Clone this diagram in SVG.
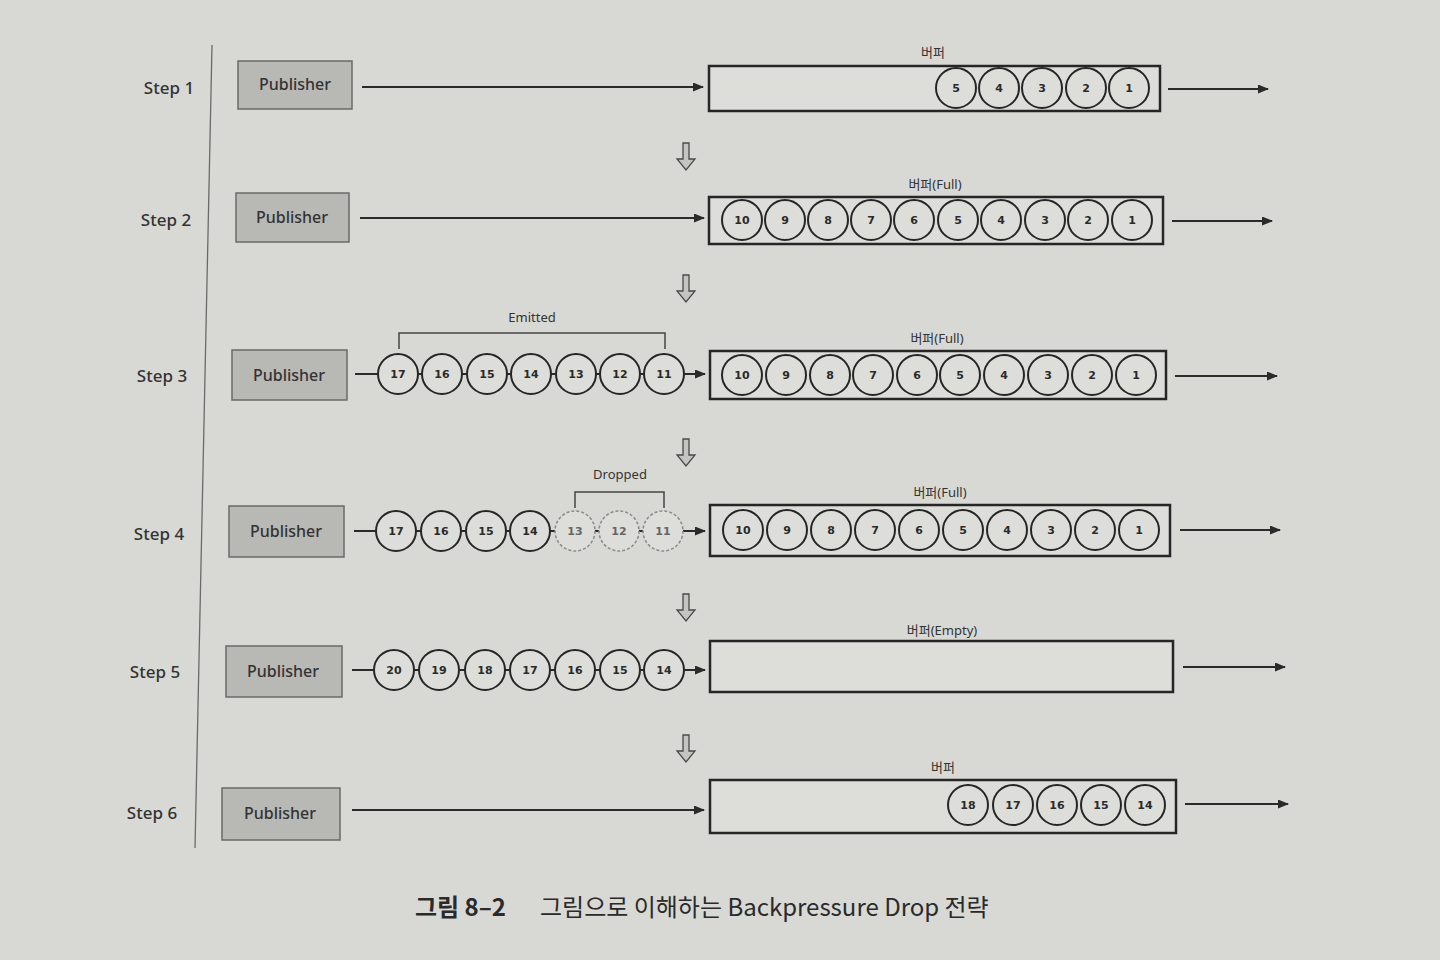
<svg xmlns="http://www.w3.org/2000/svg" width="1440" height="960" viewBox="0 0 1440 960">
<defs>
<style>
.bg{fill:#d8d9d5}
.step{font-family:"Noto Sans","Liberation Sans",sans-serif;font-size:17px;font-weight:500;fill:#333;text-anchor:middle;dominant-baseline:central}
.pub rect{fill:#b8b8b5;stroke:#6a6a68;stroke-width:1.5}
.pub text{font-family:"Noto Sans","Liberation Sans",sans-serif;font-size:16px;font-weight:500;fill:#333;text-anchor:middle;dominant-baseline:central}
.buf{fill:#dddeda;stroke:#262626;stroke-width:2.5}
.lbl{font-family:"Noto Sans","Noto Sans CJK KR",sans-serif;font-size:13px;fill:#333;text-anchor:middle;dominant-baseline:central}
.c circle{fill:#dddeda;stroke:#262626;stroke-width:2}
.c text{font-family:"DejaVu Sans","Liberation Sans",sans-serif;font-size:11px;font-weight:bold;fill:#2a2a2a;text-anchor:middle;dominant-baseline:central}
.d circle{fill:#dddeda;stroke:#8c8c8c;stroke-width:1.6;stroke-dasharray:3 2}
.d text{font-family:"DejaVu Sans","Liberation Sans",sans-serif;font-size:11px;font-weight:bold;fill:#666;text-anchor:middle;dominant-baseline:central}
.ln{stroke:#2a2a2a;stroke-width:2;fill:none}
.br{stroke:#444;stroke-width:1.5;fill:none}
.down{fill:#c4c4c0;stroke:#4a4a4a;stroke-width:1.3}
.cap{font-family:"Noto Sans CJK KR","Noto Sans",sans-serif;font-size:24px;fill:#2a2a2a;dominant-baseline:central}
</style>
<marker id="ah" markerWidth="11" markerHeight="9" refX="10" refY="4.5" orient="auto" markerUnits="userSpaceOnUse">
<path d="M0,0 L11,4.5 L0,9 Z" fill="#2a2a2a"/>
</marker>
<path id="dn" d="M-3,-14 L3,-14 L3,2 L9,2 L0,13 L-9,2 L-3,2 Z"/>
</defs>
<rect class="bg" x="0" y="0" width="1440" height="960"/>
<line x1="212" y1="45" x2="195" y2="848" stroke="#6a6a6a" stroke-width="1.3"/>

<g id="steps">
<text class="step" x="169" y="87">Step 1</text>
<text class="step" x="166" y="219">Step 2</text>
<text class="step" x="162" y="375">Step 3</text>
<text class="step" x="159" y="533">Step 4</text>
<text class="step" x="155" y="671">Step 5</text>
<text class="step" x="152" y="812">Step 6</text>
</g>

<g id="pub1" class="pub"><rect x="238" y="61" width="114" height="48"/><text x="295" y="84">Publisher</text></g>
<g id="pub2" class="pub"><rect x="236" y="193" width="113" height="49"/><text x="292" y="217">Publisher</text></g>
<g id="pub3" class="pub"><rect x="232" y="350" width="115" height="50"/><text x="289" y="375">Publisher</text></g>
<g id="pub4" class="pub"><rect x="229" y="506" width="115" height="51"/><text x="286" y="531">Publisher</text></g>
<g id="pub5" class="pub"><rect x="226" y="646" width="116" height="51"/><text x="283" y="671">Publisher</text></g>
<g id="pub6" class="pub"><rect x="222" y="788" width="118" height="52"/><text x="280" y="813">Publisher</text></g>

<g id="connectors">
<line class="ln" x1="362" y1="87" x2="703" y2="87" marker-end="url(#ah)"/>
<line class="ln" x1="360" y1="218" x2="704" y2="218" marker-end="url(#ah)"/>
<line class="ln" x1="355" y1="374" x2="705" y2="374" marker-end="url(#ah)"/>
<line class="ln" x1="354" y1="531" x2="705" y2="531" marker-end="url(#ah)"/>
<line class="ln" x1="352" y1="670" x2="705" y2="670" marker-end="url(#ah)"/>
<line class="ln" x1="352" y1="810" x2="704" y2="810" marker-end="url(#ah)"/>
<line class="ln" x1="1168" y1="89" x2="1268" y2="89" marker-end="url(#ah)"/>
<line class="ln" x1="1172" y1="221" x2="1272" y2="221" marker-end="url(#ah)"/>
<line class="ln" x1="1175" y1="376" x2="1277" y2="376" marker-end="url(#ah)"/>
<line class="ln" x1="1180" y1="530" x2="1280" y2="530" marker-end="url(#ah)"/>
<line class="ln" x1="1183" y1="667" x2="1285" y2="667" marker-end="url(#ah)"/>
<line class="ln" x1="1185" y1="804" x2="1288" y2="804" marker-end="url(#ah)"/>
</g>

<g id="downarrows" class="down">
<use href="#dn" x="686" y="157"/>
<use href="#dn" x="686" y="289"/>
<use href="#dn" x="686" y="453"/>
<use href="#dn" x="686" y="608"/>
<use href="#dn" x="686" y="749"/>
</g>

<g id="buf1">
<text class="lbl" x="933" y="52">버퍼</text>
<rect class="buf" x="709" y="66" width="451" height="45"/>
<g class="c"><circle cx="956" cy="88" r="20"/><text x="956" y="88">5</text></g>
<g class="c"><circle cx="999" cy="88" r="20"/><text x="999" y="88">4</text></g>
<g class="c"><circle cx="1042" cy="88" r="20"/><text x="1042" y="88">3</text></g>
<g class="c"><circle cx="1086" cy="88" r="20"/><text x="1086" y="88">2</text></g>
<g class="c"><circle cx="1129" cy="88" r="20"/><text x="1129" y="88">1</text></g>
</g>

<g id="buf2">
<text class="lbl" x="935" y="184">버퍼(Full)</text>
<rect class="buf" x="709" y="197" width="454" height="47"/>
<g class="c"><circle cx="742" cy="220" r="20"/><text x="742" y="220">10</text></g>
<g class="c"><circle cx="785" cy="220" r="20"/><text x="785" y="220">9</text></g>
<g class="c"><circle cx="828" cy="220" r="20"/><text x="828" y="220">8</text></g>
<g class="c"><circle cx="871" cy="220" r="20"/><text x="871" y="220">7</text></g>
<g class="c"><circle cx="914" cy="220" r="20"/><text x="914" y="220">6</text></g>
<g class="c"><circle cx="958" cy="220" r="20"/><text x="958" y="220">5</text></g>
<g class="c"><circle cx="1001" cy="220" r="20"/><text x="1001" y="220">4</text></g>
<g class="c"><circle cx="1045" cy="220" r="20"/><text x="1045" y="220">3</text></g>
<g class="c"><circle cx="1088" cy="220" r="20"/><text x="1088" y="220">2</text></g>
<g class="c"><circle cx="1132" cy="220" r="20"/><text x="1132" y="220">1</text></g>
</g>

<g id="emitted">
<text class="lbl" x="532" y="317">Emitted</text>
<path class="br" d="M399,349 V333 H665 V349"/>
</g>
<g id="stream3">
<g class="c"><circle cx="398" cy="374" r="20"/><text x="398" y="374">17</text></g>
<g class="c"><circle cx="442" cy="374" r="20"/><text x="442" y="374">16</text></g>
<g class="c"><circle cx="487" cy="374" r="20"/><text x="487" y="374">15</text></g>
<g class="c"><circle cx="531" cy="374" r="20"/><text x="531" y="374">14</text></g>
<g class="c"><circle cx="576" cy="374" r="20"/><text x="576" y="374">13</text></g>
<g class="c"><circle cx="620" cy="374" r="20"/><text x="620" y="374">12</text></g>
<g class="c"><circle cx="664" cy="374" r="20"/><text x="664" y="374">11</text></g>
</g>
<g id="buf3">
<text class="lbl" x="937" y="338">버퍼(Full)</text>
<rect class="buf" x="710" y="351" width="456" height="48"/>
<g class="c"><circle cx="742" cy="375" r="20"/><text x="742" y="375">10</text></g>
<g class="c"><circle cx="786" cy="375" r="20"/><text x="786" y="375">9</text></g>
<g class="c"><circle cx="830" cy="375" r="20"/><text x="830" y="375">8</text></g>
<g class="c"><circle cx="873" cy="375" r="20"/><text x="873" y="375">7</text></g>
<g class="c"><circle cx="917" cy="375" r="20"/><text x="917" y="375">6</text></g>
<g class="c"><circle cx="960" cy="375" r="20"/><text x="960" y="375">5</text></g>
<g class="c"><circle cx="1004" cy="375" r="20"/><text x="1004" y="375">4</text></g>
<g class="c"><circle cx="1048" cy="375" r="20"/><text x="1048" y="375">3</text></g>
<g class="c"><circle cx="1092" cy="375" r="20"/><text x="1092" y="375">2</text></g>
<g class="c"><circle cx="1136" cy="375" r="20"/><text x="1136" y="375">1</text></g>
</g>

<g id="dropped">
<text class="lbl" x="620" y="474">Dropped</text>
<path class="br" d="M575,508 V492 H664 V508"/>
</g>
<g id="stream4">
<g class="c"><circle cx="396" cy="531" r="20"/><text x="396" y="531">17</text></g>
<g class="c"><circle cx="441" cy="531" r="20"/><text x="441" y="531">16</text></g>
<g class="c"><circle cx="486" cy="531" r="20"/><text x="486" y="531">15</text></g>
<g class="c"><circle cx="530" cy="531" r="20"/><text x="530" y="531">14</text></g>
<g class="d"><circle cx="575" cy="531" r="20"/><text x="575" y="531">13</text></g>
<g class="d"><circle cx="619" cy="531" r="20"/><text x="619" y="531">12</text></g>
<g class="d"><circle cx="663" cy="531" r="20"/><text x="663" y="531">11</text></g>
</g>
<g id="buf4">
<text class="lbl" x="940" y="492">버퍼(Full)</text>
<rect class="buf" x="710" y="505" width="460" height="51"/>
<g class="c"><circle cx="743" cy="530" r="20"/><text x="743" y="530">10</text></g>
<g class="c"><circle cx="787" cy="530" r="20"/><text x="787" y="530">9</text></g>
<g class="c"><circle cx="831" cy="530" r="20"/><text x="831" y="530">8</text></g>
<g class="c"><circle cx="875" cy="530" r="20"/><text x="875" y="530">7</text></g>
<g class="c"><circle cx="919" cy="530" r="20"/><text x="919" y="530">6</text></g>
<g class="c"><circle cx="963" cy="530" r="20"/><text x="963" y="530">5</text></g>
<g class="c"><circle cx="1007" cy="530" r="20"/><text x="1007" y="530">4</text></g>
<g class="c"><circle cx="1051" cy="530" r="20"/><text x="1051" y="530">3</text></g>
<g class="c"><circle cx="1095" cy="530" r="20"/><text x="1095" y="530">2</text></g>
<g class="c"><circle cx="1139" cy="530" r="20"/><text x="1139" y="530">1</text></g>
</g>

<g id="stream5">
<g class="c"><circle cx="394" cy="670" r="20"/><text x="394" y="670">20</text></g>
<g class="c"><circle cx="439" cy="670" r="20"/><text x="439" y="670">19</text></g>
<g class="c"><circle cx="485" cy="670" r="20"/><text x="485" y="670">18</text></g>
<g class="c"><circle cx="530" cy="670" r="20"/><text x="530" y="670">17</text></g>
<g class="c"><circle cx="575" cy="670" r="20"/><text x="575" y="670">16</text></g>
<g class="c"><circle cx="620" cy="670" r="20"/><text x="620" y="670">15</text></g>
<g class="c"><circle cx="664" cy="670" r="20"/><text x="664" y="670">14</text></g>
</g>
<g id="buf5">
<text class="lbl" x="942" y="630">버퍼(Empty)</text>
<rect class="buf" x="710" y="641" width="463" height="51"/>
</g>

<g id="buf6">
<text class="lbl" x="943" y="767">버퍼</text>
<rect class="buf" x="710" y="780" width="466" height="53"/>
<g class="c"><circle cx="968" cy="805" r="20"/><text x="968" y="805">18</text></g>
<g class="c"><circle cx="1013" cy="805" r="20"/><text x="1013" y="805">17</text></g>
<g class="c"><circle cx="1057" cy="805" r="20"/><text x="1057" y="805">16</text></g>
<g class="c"><circle cx="1101" cy="805" r="20"/><text x="1101" y="805">15</text></g>
<g class="c"><circle cx="1145" cy="805" r="20"/><text x="1145" y="805">14</text></g>
</g>

<g id="caption">
<text class="cap" x="415" y="905" font-weight="bold">그림 8–2</text>
<text class="cap" x="540" y="905">그림으로 이해하는 Backpressure Drop 전략</text>
</g>
</svg>
